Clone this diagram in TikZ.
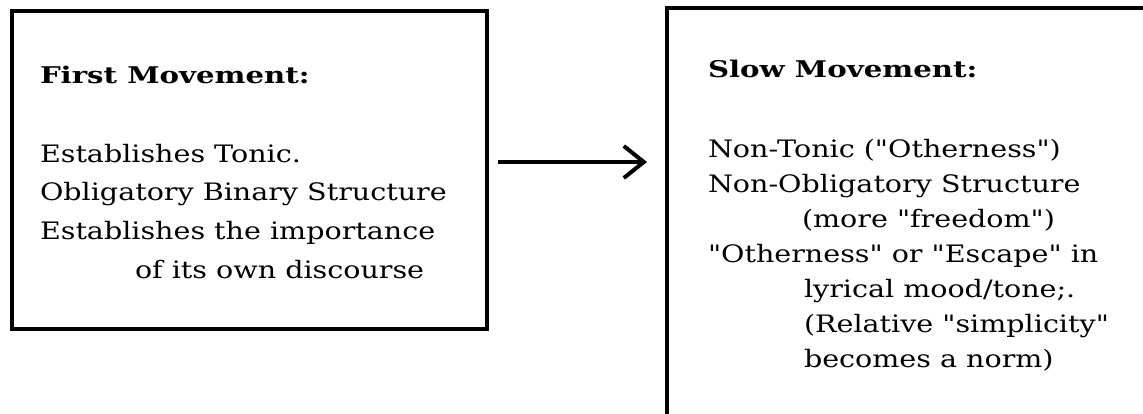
\documentclass[tikz,border=0pt]{standalone}
\usepackage{fontspec}
\newfontfamily\bodyfont{DejaVu Serif}[FakeStretch=1.19, BoldFeatures={FakeStretch=1.27}]
\usetikzlibrary{arrows.meta}
\begin{document}
\begin{tikzpicture}[x=1pt,y=-1pt,
  frame/.style={draw=black, line width=3.5pt, inner sep=0pt, outer sep=0pt, rectangle},
  txt/.style={anchor=base west, inner sep=0pt, outer sep=0pt, font=\bodyfont\fontsize{24}{28}\selectfont},
  ttl/.style={anchor=base west, inner sep=0pt, outer sep=0pt, font=\bodyfont\fontsize{23}{28}\selectfont\bfseries},
  arr/.style={line width=4pt, -{Straight Barb[length=20pt,width=32pt]}}]
\useasboundingbox (0,0) rectangle (1143,413);
% left box
\node[frame, minimum width=475pt, minimum height=318pt, anchor=north west] (lbox) at (12,11) {};
% right box (cut off by the picture's edge)
\begin{scope}
\clip (0,0) rectangle (1143,413);
\node[frame, minimum width=600pt, minimum height=500pt, anchor=north west] (rbox) at (667,8) {};
\end{scope}
% arrow
\coordinate (a0) at ([shift={(11pt,8pt)}]lbox.east);
\draw[arr] (a0) -- ([xshift=-20pt]rbox.west |- a0);
% left texts
\node[ttl] (l0) at (40,83) {First Movement:};
\node[txt] (l1) at (40,162) {Establishes Tonic.};
\node[txt] (l2) at (40,200.7) {Obligatory Binary Structure};
\node[txt] (l3) at (40,239.3) {Establishes the importance};
\node[txt] (l4) at (135,278) {of its own discourse};
% right texts
\node[ttl] (r0) at (708,77) {Slow Movement:};
\node[txt] (r1) at (708,157) {Non-Tonic ("Otherness")};
\node[txt] (r2) at (708,192) {Non-Obligatory Structure};
\node[txt] (r3) at (802,227) {(more "freedom")};
\node[txt] (r4) at (708,262) {"Otherness" or "Escape" in};
\node[txt] (r5) at (804,297) {lyrical mood/tone;.};
\node[txt] (r6) at (804,332) {(Relative "simplicity"};
\node[txt] (r7) at (804,367) {becomes a norm)};
\end{tikzpicture}
\end{document}
